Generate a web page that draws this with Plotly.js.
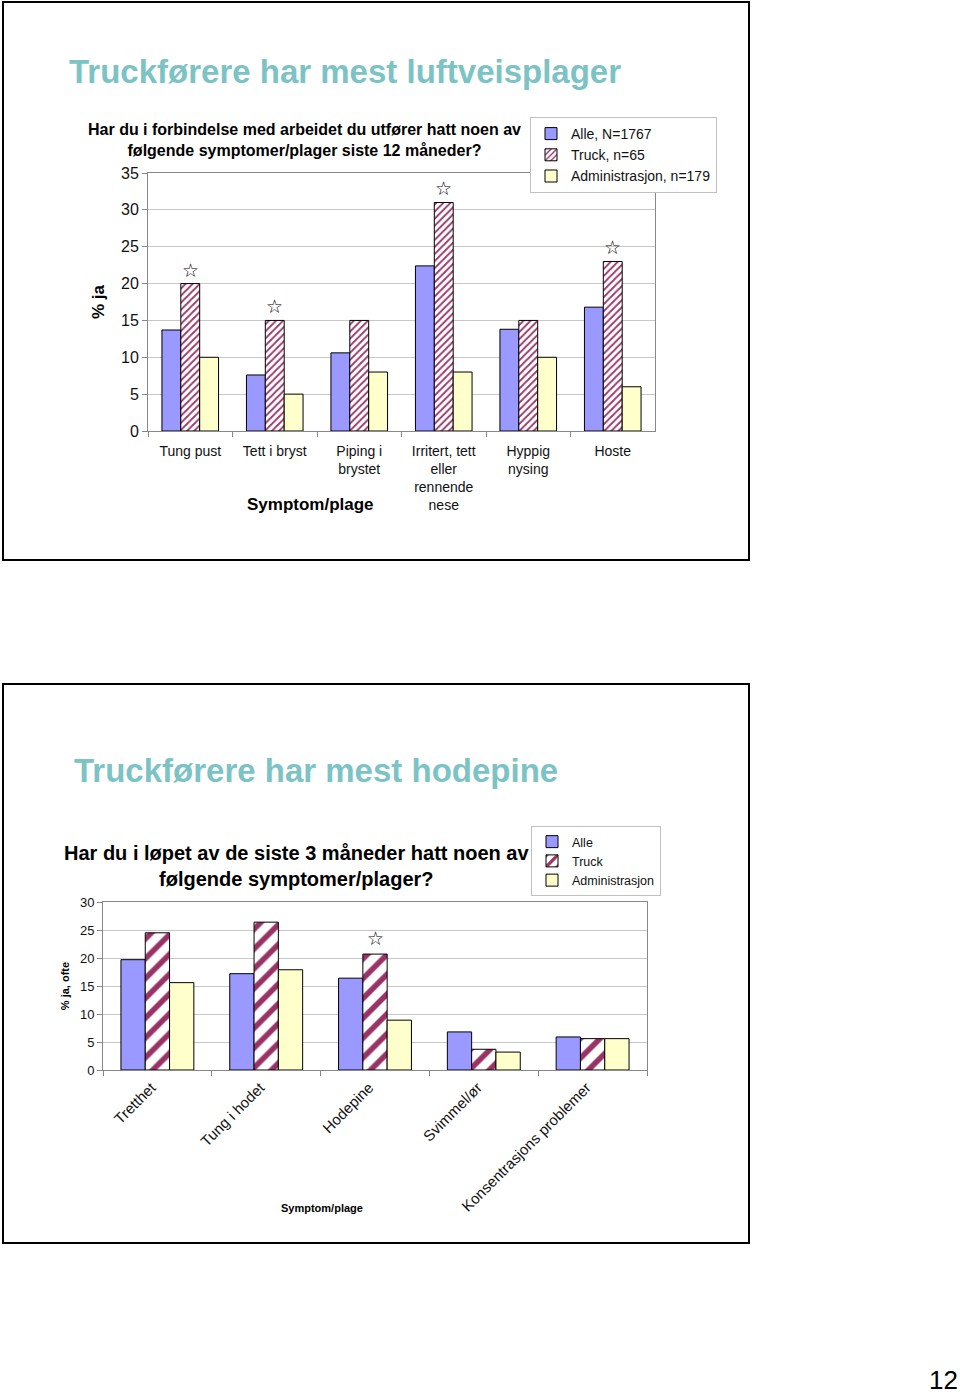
<!DOCTYPE html>
<html>
<head>
<meta charset="utf-8">
<script src="https://cdn.plot.ly/plotly-3.0.1.min.js"></script>
<style>
  html, body { margin: 0; padding: 0; background: #fff; }
  #chart { width: 960px; height: 1394px; }
</style>
</head>
<body>
<div id="chart"></div>
<script>
// --- slide 1: luftveisplager (siste 12 mnd) ---
const symptoms1 = ["Tung pust", "Tett i bryst", "Piping i<br>brystet",
  "Irritert, tett<br>eller<br>rennende<br>nese", "Hyppig<br>nysing", "Hoste"];
const alle1 = [13.7, 7.6, 10.6, 22.4, 13.8, 16.8];
const truck1 = [20, 15, 15, 31, 15, 23];
const admin1 = [10, 5, 8, 8, 10, 6];
const star1 = [true, true, false, true, false, true];
const names1 = ["Alle, N=1767", "Truck, n=65", "Administrasjon, n=179"];

// --- slide 2: hodepine (siste 3 mnd) ---
const symptoms2 = ["Tretthet", "Tung i hodet", "Hodepine", "Svimmel/ør", "Konsentrasjons problemer"];
const alle2 = [19.7, 17.2, 16.4, 6.8, 5.9];
const truck2 = [24.5, 26.4, 20.7, 3.7, 5.6];
const admin2 = [15.6, 17.9, 8.9, 3.2, 5.6];
const star2 = [false, false, true, false, false];
const names2 = ["Alle", "Truck", "Administrasjon"];

const W = 960, H = 1394;
const px = x => x / W;
const py = y => 1 - y / H;

const BLUE = "#9999ff", PLUM = "#993366", CREAM = "#ffffcc";
const TEAL = "#7cc3c6";
const outline = { color: "#000", width: 1 };

const traces = [
  { type: "bar", x: symptoms1, y: alle1, name: names1[0], xaxis: "x", yaxis: "y",
    legend: "legend", marker: { color: BLUE, line: outline } },
  { type: "bar", x: symptoms1, y: truck1, name: names1[1], xaxis: "x", yaxis: "y",
    legend: "legend",
    marker: { color: "#fff", line: outline,
      pattern: { shape: "/", fgcolor: PLUM, bgcolor: "#fff", size: 5, solidity: 0.35 } } },
  { type: "bar", x: symptoms1, y: admin1, name: names1[2], xaxis: "x", yaxis: "y",
    legend: "legend", marker: { color: CREAM, line: outline } },

  { type: "bar", x: symptoms2, y: alle2, name: names2[0], xaxis: "x2", yaxis: "y2",
    legend: "legend2", marker: { color: BLUE, line: outline } },
  { type: "bar", x: symptoms2, y: truck2, name: names2[1], xaxis: "x2", yaxis: "y2",
    legend: "legend2",
    marker: { color: "#fff", line: outline,
      pattern: { shape: "/", fgcolor: PLUM, bgcolor: "#fff", size: 14, solidity: 0.4 } } },
  { type: "bar", x: symptoms2, y: admin2, name: names2[2], xaxis: "x2", yaxis: "y2",
    legend: "legend2", marker: { color: CREAM, line: outline } },
];

// stars over the truck bars flagged as significant
const starFont = { size: 19, color: "#000", family: "DejaVu Sans" };
const stars = [];
symptoms1.forEach((s, i) => {
  if (star1[i]) stars.push({ x: s, y: truck1[i], xref: "x", yref: "y", text: "☆",
    showarrow: false, xanchor: "center", yanchor: "bottom", yshift: 1, font: starFont });
});
symptoms2.forEach((s, i) => {
  if (star2[i]) stars.push({ x: s, y: truck2[i], xref: "x2", yref: "y2", text: "☆",
    showarrow: false, xanchor: "center", yanchor: "bottom", yshift: 3, font: starFont });
});

const txt = (x, y, text, size, extra = {}) => Object.assign({
  x: px(x), y: py(y), xref: "paper", yref: "paper", text, showarrow: false,
  xanchor: "center", yanchor: "middle",
  font: { size, color: "#000" }
}, extra);

const annotations = stars.concat([
  txt(67, 72, "<b>Truckførere har mest luftveisplager</b>", 33,
    { xanchor: "left", font: { size: 33, color: TEAL } }),
  txt(304, 140, "<b>Har du i forbindelse med arbeidet du utfører hatt noen av<br>følgende symptomer/plager siste 12 måneder?</b>", 16),
  txt(310, 504, "<b>Symptom/plage</b>", 17),

  txt(72, 770, "<b>Truckførere har mest hodepine</b>", 33,
    { xanchor: "left", font: { size: 33, color: TEAL } }),
  txt(296, 866, "<b>Har du i løpet av de siste 3 måneder hatt noen av<br>følgende symptomer/plager?</b>", 20),
  txt(322, 1208, "<b>Symptom/plage</b>", 11),

  txt(943, 1380, "12", 26),
]);

const slideBox = (y0, y1) => ({
  type: "rect", xref: "paper", yref: "paper",
  x0: px(3), x1: px(749), y0: py(y1), y1: py(y0),
  line: { color: "#000", width: 2 }
});

const layout = {
  width: W, height: H, autosize: false,
  margin: { l: 0, r: 0, t: 0, b: 0 },
  paper_bgcolor: "#fff", plot_bgcolor: "#fff",
  font: { family: "Liberation Sans, Arial, sans-serif", color: "#000" },
  barmode: "group", bargap: 0.33, bargroupgap: 0,
  xaxis: {
    domain: [px(148), px(655)], anchor: "y", type: "category",
    showline: true, linecolor: "#888", mirror: true,
    ticks: "outside", tickson: "boundaries", ticklen: 5, tickcolor: "#888",
    ticklabelstandoff: 7,
    tickfont: { size: 14, color: "#111" }, showgrid: false
  },
  yaxis: {
    domain: [py(431), py(173)], anchor: "x", range: [0, 35], dtick: 5,
    showline: true, linecolor: "#888", mirror: true,
    ticks: "outside", ticklen: 5, tickcolor: "#888",
    gridcolor: "#c8c8c8", zeroline: false,
    tickfont: { size: 16, color: "#111" },
    title: { text: "<b>% ja</b>", font: { size: 17 }, standoff: 12 }
  },
  xaxis2: {
    domain: [px(103), px(647)], anchor: "y2", type: "category",
    showline: true, linecolor: "#888", mirror: true,
    ticks: "outside", tickson: "boundaries", ticklen: 5, tickcolor: "#888",
    tickangle: -45, ticklabelshift: -6, ticklabelstandoff: 2,
    tickfont: { size: 15, color: "#111" }, showgrid: false
  },
  yaxis2: {
    domain: [py(1070), py(902)], anchor: "x2", range: [0, 30], dtick: 5,
    showline: true, linecolor: "#888", mirror: true,
    ticks: "outside", ticklen: 5, tickcolor: "#888",
    gridcolor: "#c8c8c8", zeroline: false,
    tickfont: { size: 13, color: "#111" },
    title: { text: "<b>% ja, ofte</b>", font: { size: 11 }, standoff: 8 }
  },
  legend: {
    x: px(530), y: py(117), xanchor: "left", yanchor: "top",
    bgcolor: "#fff", bordercolor: "#c0c0c0", borderwidth: 1,
    font: { size: 14, color: "#111" }, traceorder: "normal"
  },
  legend2: {
    x: px(531), y: py(826), xanchor: "left", yanchor: "top",
    bgcolor: "#fff", bordercolor: "#c0c0c0", borderwidth: 1,
    font: { size: 12.5, color: "#111" }, traceorder: "normal"
  },
  shapes: [slideBox(2, 560), slideBox(684, 1243)],
  annotations
};

Plotly.newPlot("chart", traces, layout, { displayModeBar: false, staticPlot: true });
</script>
</body>
</html>
